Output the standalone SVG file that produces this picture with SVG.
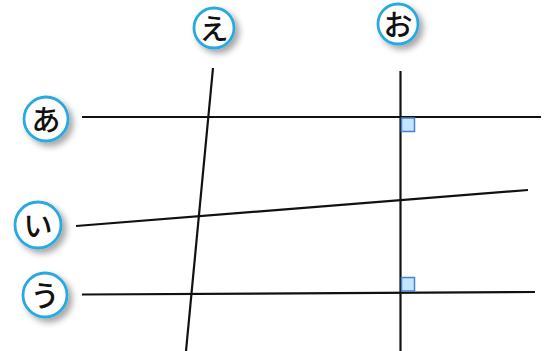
<svg xmlns="http://www.w3.org/2000/svg" width="549" height="351" viewBox="0 0 549 351">
<style>
.ln{stroke:#111;stroke-width:2.2;fill:none;stroke-linecap:butt}
.c{fill:#fff;stroke:#29a9e1;stroke-width:2.8}
.t{font-family:"Noto Sans CJK JP",sans-serif;font-size:29px;font-weight:500;fill:#111;text-anchor:middle;dominant-baseline:central}
.ra{fill:#c3e6fa;stroke:#4a80d2;stroke-width:1.5}
</style>
<defs>
<filter id="sh" x="-50%" y="-50%" width="200%" height="200%">
<feDropShadow dx="4" dy="4" stdDeviation="3" flood-color="#000" flood-opacity="0.35"/>
</filter>
</defs>
<rect width="549" height="351" fill="#fff"/>
<g id="connectors">
<line class="ln" x1="82" y1="117" x2="541" y2="117"/>
<line class="ln" x1="76" y1="226" x2="528" y2="190"/>
<line class="ln" x1="82" y1="294.5" x2="535" y2="292"/>
<line class="ln" x1="213" y1="68" x2="186" y2="351"/>
<line class="ln" x1="400.5" y1="71" x2="400.5" y2="351"/>
<rect class="ra" x="401.5" y="118" width="13" height="13.5"/>
<rect class="ra" x="401.5" y="277.5" width="13" height="13.5"/>
</g>
<g id="a"><circle class="c" cx="46" cy="119" r="22" filter="url(#sh)"/><text class="t" x="46" y="118">あ</text></g>
<g id="i"><circle class="c" cx="38" cy="225" r="23" filter="url(#sh)"/><text class="t" x="38" y="224">い</text></g>
<g id="u"><circle class="c" cx="45" cy="295" r="22" filter="url(#sh)"/><text class="t" x="45" y="294">う</text></g>
<g id="e"><circle class="c" cx="214" cy="28" r="20" filter="url(#sh)"/><text class="t" x="214" y="27">え</text></g>
<g id="o"><circle class="c" cx="398" cy="24" r="20" filter="url(#sh)"/><text class="t" x="398" y="23">お</text></g>
</svg>
